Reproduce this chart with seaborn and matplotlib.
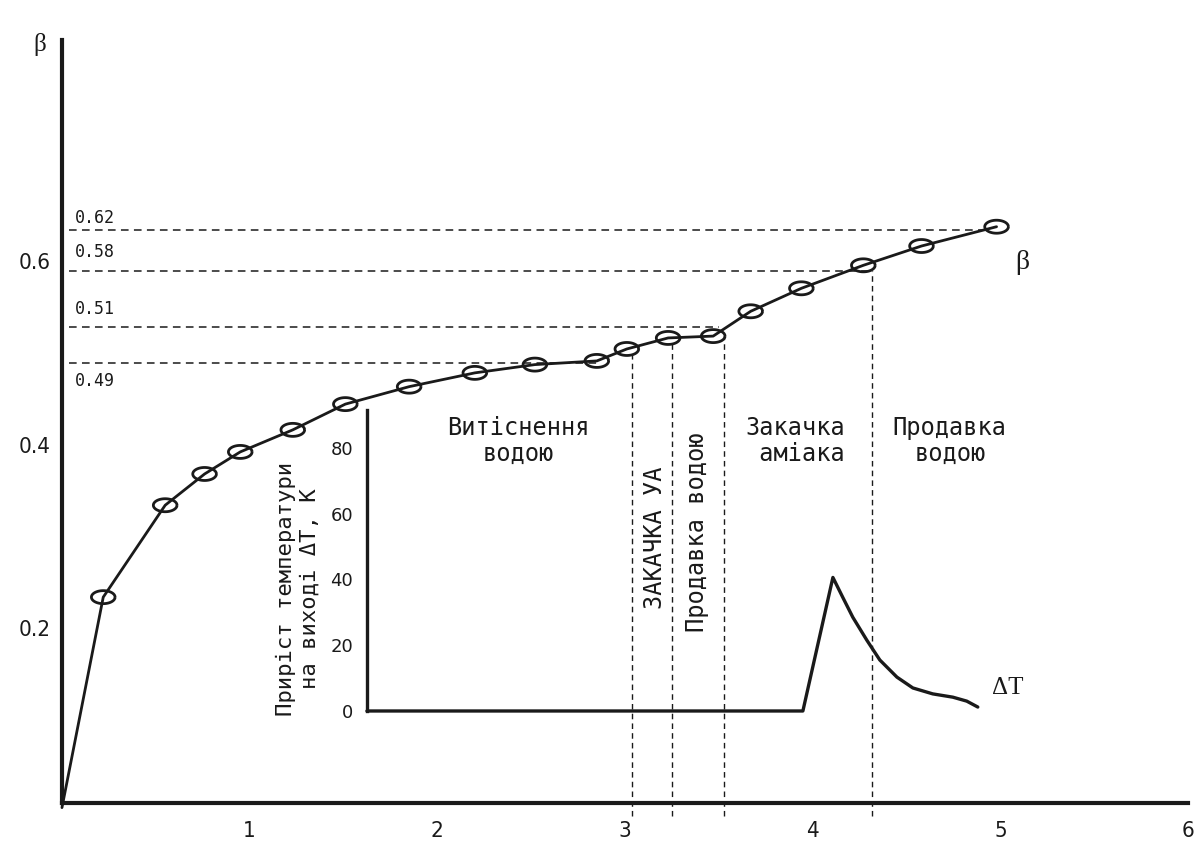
import numpy as np
import matplotlib
matplotlib.use("Agg")
import matplotlib.pyplot as plt
import seaborn as sns

# main curve beta vs dimensionless time
t_beta = [0.0, 0.22, 0.55, 0.76, 0.95, 1.23, 1.51, 1.85, 2.20, 2.52, 2.85,
          3.01, 3.23, 3.47, 3.67, 3.94, 4.27, 4.58, 4.98]
beta = [0.005, 0.234, 0.334, 0.368, 0.392, 0.416, 0.444, 0.463, 0.478, 0.487,
        0.491, 0.504, 0.516, 0.518, 0.545, 0.570, 0.595, 0.616, 0.637]

# temperature rise at the outlet (inset)
t_dT = [1.625, 3.948, 4.108, 4.161, 4.214, 4.289, 4.358, 4.449, 4.534, 4.640,
        4.747, 4.821, 4.880]
dT = [0, 0, 40.6, 34.5, 28.5, 21.5, 15.5, 10.3, 7.0, 5.2, 4.2, 3.0, 1.2]

# reference levels (dashed) and their labels
ref_levels = [0.633, 0.589, 0.528, 0.489]
ref_labels = ["0.62", "0.58", "0.51", "0.49"]
ref_label_y = [0.647, 0.610, 0.548, 0.469]
ref_xend = [4.94, 4.32, 3.50, 2.87]

# stage boundaries
stage_x = [3.037, 3.25, 3.53, 4.315]
stage_top = [0.503, 0.514, 0.518, 0.589]

x_ticks = [1, 2, 3, 4, 5, 6]
y_ticks = [0.2, 0.4, 0.6, 0.8]
y_ticklabels = ["0.2", "0.4", "0.6", ""]
dT_ticks = [0, 20, 40, 60, 80]

sns.set_style("white")
plt.rcParams["font.family"] = ["DejaVu Sans"]
mono = ["DejaVu Sans Mono", "DejaVu Sans"]
narrow = ["Liberation Sans Narrow", "DejaVu Sans"]
serif = ["Liberation Serif", "DejaVu Serif"]
ink = "#1a1a1a"

fig = plt.figure(figsize=(11.96, 8.43), dpi=100)
ax = fig.add_axes([0.0518, 0.0474, 0.9415, 0.905])
ax2 = fig.add_axes([0.0518, 0.1566, 0.9415, 0.357])
ax2.patch.set_alpha(0)

# main curve
sns.lineplot(x=t_beta, y=beta, ax=ax, color=ink, lw=2.0, clip_on=False, zorder=3)
th = np.linspace(0, 2 * np.pi, 60)
ellipse = np.column_stack([np.cos(th), 0.55 * np.sin(th)])
sns.scatterplot(x=t_beta[1:], y=beta[1:], ax=ax, marker=ellipse, s=290,
                facecolor="none", edgecolor=ink, linewidth=2.0, zorder=4)

dash = (0, (5, 3.5))
for lev, lab, ly, xe in zip(ref_levels, ref_labels, ref_label_y, ref_xend):
    ax.hlines(lev, 0.04, xe, colors=ink, lw=1.1, linestyles=dash)
    ax.text(0.07, ly, lab, family=mono, fontsize=12, color=ink, va="center", ha="left")

for sx, st in zip(stage_x, stage_top):
    ax.vlines(sx, -0.004, st, colors=ink, lw=1.0, linestyles=(0, (4, 3)), clip_on=False)

ax.set_xlim(0, 6)
ax.set_ylim(0.01, 0.84)
ax.set_xticks(x_ticks)
ax.set_xticklabels([str(v) for v in x_ticks], family=narrow, fontsize=16,
                   fontstretch="condensed")
ax.set_yticks(y_ticks)
ax.set_yticklabels(y_ticklabels, family=narrow, fontsize=16, fontstretch="condensed")
ax.tick_params(axis="x", direction="out", length=7, width=1, pad=6, colors=ink)
ax.tick_params(axis="y", direction="inout", length=12, width=1, pad=2, colors=ink)
for s in ["top", "right"]:
    ax.spines[s].set_visible(False)
for s in ["left", "bottom"]:
    ax.spines[s].set_linewidth(3)
    ax.spines[s].set_color(ink)
ax.text(-0.117, 0.835, "β", family=serif, fontsize=18, color=ink,
        ha="center", va="center", clip_on=False)
ax.text(5.115, 0.598, "β", family=serif, fontsize=20, color=ink, ha="center", va="center")

# stage captions
ax.text(2.43, 0.404, "Витіснення\nводою", family=mono, fontsize=17, color=ink,
        ha="center", va="center", multialignment="center", linespacing=1.1)
ax.text(3.905, 0.404, "Закачка\n аміака", family=mono, fontsize=17, color=ink,
        ha="center", va="center", multialignment="left", linespacing=1.1)
ax.text(4.731, 0.404, "Продавка\nводою", family=mono, fontsize=17, color=ink,
        ha="center", va="center", multialignment="center", linespacing=1.1)
ax.text(3.159, 0.299, "ЗАКАЧКА УА", family=mono, fontsize=17, color=ink,
        rotation=90, ha="center", va="center")
ax.text(3.383, 0.305, "Продавка водою", family=mono, fontsize=17, color=ink,
        rotation=90, ha="center", va="center")
ax.text(1.257, 0.243, "Приріст температури\nна виході ΔT, К", family=mono, fontsize=16,
        color=ink, rotation=90, ha="center", va="center", multialignment="center",
        linespacing=1.25)

# inset: temperature rise
sns.lineplot(x=t_dT, y=dT, ax=ax2, color=ink, lw=2.4, clip_on=False)
ax2.set_xlim(0, 6)
ax2.set_ylim(0, 91.5)
ax2.xaxis.set_visible(False)
for s in ["top", "right", "bottom"]:
    ax2.spines[s].set_visible(False)
ax2.spines["left"].set_position(("data", 1.625))
ax2.spines["left"].set_linewidth(2.4)
ax2.spines["left"].set_color(ink)
ax2.set_yticks(dT_ticks)
ax2.set_yticklabels([str(v) for v in dT_ticks], fontsize=13)
ax2.tick_params(axis="y", direction="in", length=7, width=1, pad=10, colors=ink)
ax2.set_ylabel("")
ax2.text(5.04, 7, "ΔT", family=serif, fontsize=18, color=ink, ha="center", va="center")

fig.savefig("out.png", dpi=100, facecolor="white")
